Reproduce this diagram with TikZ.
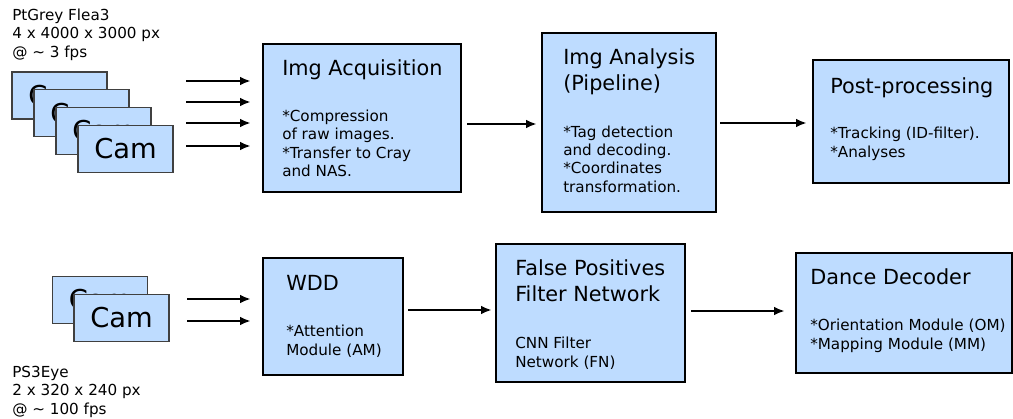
\documentclass[tikz,border=0pt]{standalone}
\usepackage{fontspec}
\setmainfont{DejaVu Sans}
\usetikzlibrary{arrows.meta}

\definecolor{boxblue}{RGB}{190,220,255}
\newcommand{\headfont}{\fontsize{15.6}{19.5}\selectfont}
\newcommand{\bodyfont}{\fontsize{11.4}{13.7}\selectfont}
\newcommand{\camfont}{\fontsize{20.5}{24}\selectfont}

\begin{document}
\begin{tikzpicture}[
  x=0.75pt,y=-0.75pt,
  stage/.style={rectangle,draw=black,line width=1.8pt,fill=boxblue,inner sep=0pt},
  cam/.style={rectangle,draw=black!75,line width=0.9pt,fill=boxblue,minimum width=71.25pt,minimum height=35.25pt,inner sep=0pt,font=\camfont},
  head/.style={anchor=base west,inner sep=0pt,align=left,font=\headfont},
  body/.style={anchor=base west,inner sep=0pt,align=left,font=\bodyfont},
  flow/.style={-{Latex[length=8pt,width=6.5pt]},line width=1.6pt}
]

\useasboundingbox (0,0) rectangle (1013,418);

% cameras
\foreach \i in {0,...,3} \node[cam] (topcam\i) at (59.5+22*\i,95.5+17.7*\i) {Cam};
\foreach \i in {0,1} \node[cam] (lowcam\i) at (100+21.5*\i,300+18*\i) {Cam};

% base of a multi-line node = baseline of its last line
\node[body] (toplbl) at (12,57) {PtGrey Flea3\\4 x 4000 x 3000 px\\@ \textasciitilde{} 3 fps};
\node[body] (lowlbl) at (12,414) {PS3Eye\\2 x 320 x 240 px\\@ \textasciitilde{} 100 fps};

% upper row
\node[stage,minimum width=148.5pt,minimum height=111pt] (acq) at (362,118) {};
\node[stage,minimum width=130.5pt,minimum height=134.25pt] (ana) at (629,122.5) {};
\node[stage,minimum width=147pt,minimum height=92.25pt] (post) at (911,121.5) {};

\node[head] (acqhead) at (282,75) {Img Acquisition};
\node[body] (acqtxt) at (282,176.5) {*Compression\\of raw images.\\*Transfer to Cray\\and NAS.};
\node[head] (anahead) at (563,90) {Img Analysis\\(Pipeline)};
\node[body] (anatxt) at (563,192) {*Tag detection\\and decoding.\\*Coordinates\\transformation.};
\node[head] (posthead) at (830,93) {Post-processing};
\node[body] (posttxt) at (830,157) {*Tracking (ID-filter).\\*Analyses};

% lower row
\node[stage,minimum width=105pt,minimum height=87.75pt] (wdd) at (333,316.5) {};
\node[stage,minimum width=141.75pt,minimum height=103.5pt] (fpf) at (590.5,313) {};
\node[stage,minimum width=162pt,minimum height=90pt] (dd) at (904,313) {};

\node[head] (wddhead) at (286,290) {WDD};
\node[body] (wddtxt) at (286,355) {*Attention\\Module (AM)};
\node[head] (fpfhead) at (515,301) {False Positives\\Filter Network};
\node[body] (fpftxt) at (515,367) {CNN Filter\\Network (FN)};
\node[head] (ddhead) at (810,284) {Dance Decoder};
\node[body] (ddtxt) at (810,349) {*Orientation Module (OM)\\*Mapping Module (MM)};

% arrows
\foreach \y in {81,102,123,146}
  \draw[flow,shorten >=8.25pt] (186,\y) -- (acq.west |- 0,\y);
\foreach \y in {299,321}
  \draw[flow,shorten >=8.25pt] (187,\y) -- (wdd.west |- 0,\y);

\draw[flow,shorten <=3.75pt,shorten >=3pt] (acq.east |- 0,124) -- (ana.west |- 0,124);
\draw[flow,shorten <=2.25pt,shorten >=3.75pt] (ana.east |- 0,123) -- (post.west |- 0,123);
\draw[flow,shorten <=3pt,shorten >=2.25pt] (wdd.east |- 0,310) -- (fpf.west |- 0,310);
\draw[flow,shorten <=3.75pt,shorten >=7.5pt] (fpf.east |- 0,311) -- (dd.west |- 0,311);

\end{tikzpicture}
\end{document}
